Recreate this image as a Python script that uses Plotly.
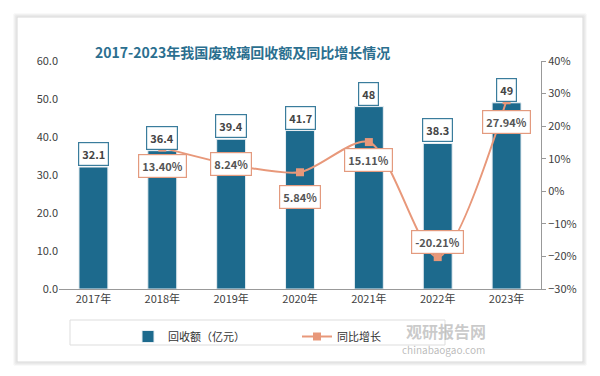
import plotly.graph_objects as go

years = ["2017年", "2018年", "2019年", "2020年", "2021年", "2022年", "2023年"]
amount = [32.1, 36.4, 39.4, 41.7, 48, 38.3, 49]
growth = [None, 13.40, 8.24, 5.84, 15.11, -20.21, 27.94]
amount_labels = ["32.1", "36.4", "39.4", "41.7", "48", "38.3", "49"]
growth_labels = ["", "13.40%", "8.24%", "5.84%", "15.11%", "-20.21%", "27.94%"]
growth_shift = [0, -18, 0, -25, -18, 15, -22]

BAR = "#1d6a8d"
LINE = "#e8987a"
FONT = "Noto Sans CJK SC"


def px(x):
    return (x - 59) / 482


def py(y):
    return (289 - y) / 228


fig = go.Figure()
fig.add_trace(go.Bar(
    x=years, y=amount, name="回收额（亿元）", marker=dict(color=BAR, line=dict(color="#e8eef2", width=1)),
    width=0.42, yaxis="y"))
fig.add_trace(go.Scatter(
    x=years, y=growth, name="同比增长", yaxis="y2", mode="lines+markers",
    line=dict(color=LINE, width=2, shape="spline", smoothing=0.8),
    marker=dict(symbol="square", size=8, color=LINE), connectgaps=False))

for yr, v, t in zip(years, amount, amount_labels):
    fig.add_annotation(x=yr, y=v, yref="y", text="<b>%s</b>" % t, showarrow=False,
                       yshift=13, font=dict(size=11, color="#444", family=FONT),
                       bgcolor="white", bordercolor="#3a7c9c", borderwidth=1.2, borderpad=3)

for yr, v, t, s in zip(years, growth, growth_labels, growth_shift):
    if v is None:
        continue
    fig.add_annotation(x=yr, y=v, yref="y2", text="<b>%s</b>" % t, showarrow=False,
                       yshift=s, font=dict(size=11, color="#555", family=FONT),
                       bgcolor="white", bordercolor="#e39a7e", borderwidth=1.2, borderpad=3)

fig.add_annotation(xref="paper", yref="paper", x=px(242), y=py(40), xanchor="center",
                   text="<b>2017-2023年我国废玻璃回收额及同比增长情况</b>",
                   showarrow=False, font=dict(size=14, color="#2b6f8f", family=FONT))
fig.add_annotation(xref="paper", yref="paper", x=px(446), y=py(331), xanchor="center", yanchor="middle",
                   text="<b>观研报告网</b>",
                   showarrow=False, font=dict(size=16, color="rgba(150,150,150,0.5)", family=FONT))
fig.add_annotation(xref="paper", yref="paper", x=px(443), y=py(349), xanchor="center", yanchor="middle",
                   text="chinabaogao.com",
                   showarrow=False, font=dict(size=10, color="rgba(150,150,150,0.65)", family=FONT))

# card outline/shadow
for i, c in enumerate(["#f3f3f3", "#e8e8e8", "#dedede"]):
    d = 3 - i
    fig.add_shape(type="rect", xref="paper", yref="paper",
                  x0=px(17 - d), x1=px(583 + d), y0=py(362 + d), y1=py(17 - d),
                  line=dict(color=c, width=1), fillcolor="rgba(0,0,0,0)", layer="below")
fig.add_shape(type="rect", xref="paper", yref="paper",
              x0=px(17), x1=px(583), y0=py(362), y1=py(17),
              line=dict(color="#d8d8d8", width=1), fillcolor="white", layer="below")
# legend frame
fig.add_shape(type="rect", xref="paper", yref="paper",
              x0=px(70), x1=px(445), y0=py(345), y1=py(320),
              line=dict(color="#dddddd", width=1), fillcolor="white", layer="below")

fig.update_layout(
    width=600, height=376, margin=dict(l=59, r=59, t=61, b=87, autoexpand=False),
    paper_bgcolor="white", plot_bgcolor="#eeeeee",
    font=dict(family=FONT, size=11, color="#404040"),
    bargap=0.58, showlegend=True,
    legend=dict(orientation="h", x=px(128), xanchor="left", y=py(322), yanchor="top",
                borderwidth=0, bgcolor="rgba(0,0,0,0)",
                entrywidth=124, font=dict(size=11, color="#333", family=FONT)),
    xaxis=dict(showgrid=False, showline=True, linecolor="#999", ticks="", tickfont=dict(size=11)),
    yaxis=dict(range=[0, 60], dtick=10, tickformat=".1f", showgrid=False, zeroline=False,
               ticks="", tickfont=dict(size=11)),
    yaxis2=dict(range=[-30, 40], dtick=10, ticksuffix="%", overlaying="y", side="right",
                showgrid=False, zeroline=False, showline=True, linecolor="#999",
                ticks="outside", ticklen=4, tickcolor="#999", tickfont=dict(size=11)),
)

fig.write_html("out.html", config={"displayModeBar": False},
               post_script="document.body.style.margin='0';")
